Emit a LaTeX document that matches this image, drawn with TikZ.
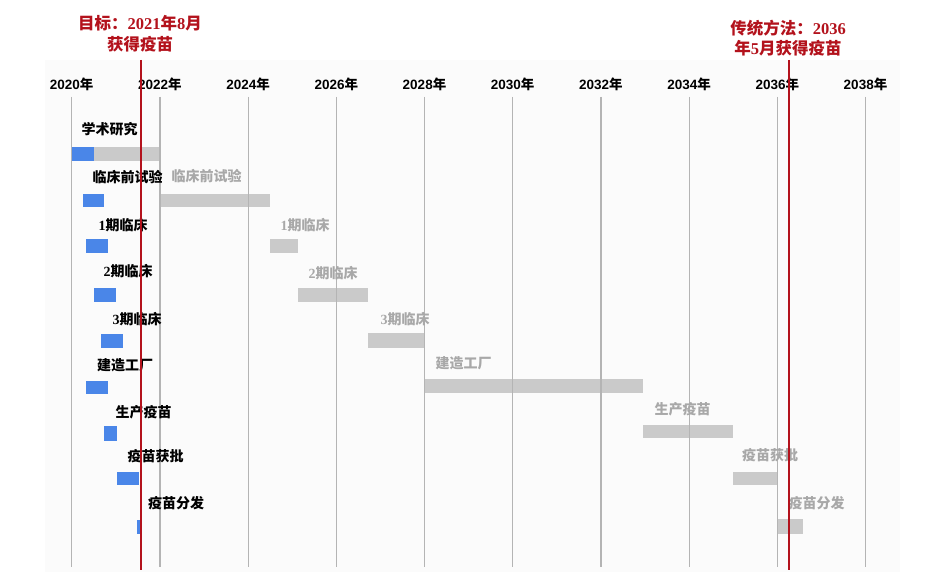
\documentclass[tikz,border=0pt]{standalone}
\usepackage{fontspec}
\setmainfont{Liberation Serif}
\newfontfamily\cjk{Noto Sans CJK SC}
\newfontfamily\axisf{Liberation Sans}
\definecolor{darkred}{HTML}{B3121C}
\definecolor{barblue}{HTML}{4A86E8}
\definecolor{bargray}{HTML}{CACACA}
\definecolor{txtgray}{HTML}{A8A8A8}
\definecolor{gridgray}{HTML}{B4B4B4}
\definecolor{panel}{HTML}{FBFBFB}
\tikzset{
  axislbl/.style={inner sep=0pt, font=\axisf\bfseries\fontsize{13.5}{15}\selectfont},
  rowlbl/.style={inner sep=0pt, text=black, font=\bfseries\fontsize{14}{16}\selectfont},
  graylbl/.style={inner sep=0pt, text=txtgray, font=\bfseries\fontsize{14}{16}\selectfont},
  redlbl/.style={inner sep=0pt, text=darkred, align=center, font=\bfseries\fontsize{16.5}{20.5}\selectfont},
  gridln/.style={draw=gridgray, line width=1.2pt},
  redln/.style={draw=darkred, line width=2.6pt},
  bluebar/.style={fill=barblue},
  graybar/.style={fill=bargray}
}
\begin{document}
\begin{tikzpicture}[x=1pt,y=-1pt]
\useasboundingbox (0,0) rectangle (927,577);
\fill[panel] (45,60) rectangle (900,572);

% bars
\fill[graybar] (94,147) rectangle (160,161);
\fill[graybar] (160,194) rectangle (270,207);
\fill[graybar] (270,239) rectangle (298,253);
\fill[graybar] (298,288) rectangle (368,302);
\fill[graybar] (368,333) rectangle (424,348);
\fill[graybar] (424,379) rectangle (643,393);
\fill[graybar] (643,425) rectangle (733,438);
\fill[graybar] (733,472) rectangle (778,485);
\fill[graybar] (778,519) rectangle (803,534);

\fill[bluebar] (72,147) rectangle (94,161);
\fill[bluebar] (83,194) rectangle (104,207);
\fill[bluebar] (86,239) rectangle (108,253);
\fill[bluebar] (94,288) rectangle (116,302);
\fill[bluebar] (101,334) rectangle (123,348);
\fill[bluebar] (86,381) rectangle (108,394);
\fill[bluebar] (104,426) rectangle (117,441);
\fill[bluebar] (117,472) rectangle (139,485);
\fill[bluebar] (137,520) rectangle (140,534);

% axis
\foreach \i in {0,...,9} {
  \pgfmathsetmacro\yr{int(2020+2*\i)}
  \node[axislbl] (yr\i) at ({71.7+88.2*\i},84) {\yr{\cjk 年}};
  \coordinate (gt\i) at ({71.7+88.2*\i},97);
  \coordinate (gb\i) at ({71.7+88.2*\i},567);
  \draw[gridln] (gt\i) -- (gb\i);
}

% row labels
\node[rowlbl] (l1) at (109.5,129) {\cjk 学术研究};
\node[rowlbl] (l2) at (127.5,177) {\cjk 临床前试验};
\node[rowlbl] (l3) at (123,225) {1{\cjk 期临床}};
\node[rowlbl] (l4) at (128,271) {2{\cjk 期临床}};
\node[rowlbl] (l5) at (137,319) {3{\cjk 期临床}};
\node[rowlbl] (l6) at (125,365) {\cjk 建造工厂};
\node[rowlbl] (l7) at (143.5,412) {\cjk 生产疫苗};
\node[rowlbl] (l8) at (155.5,456) {\cjk 疫苗获批};
\node[rowlbl] (l9) at (176,503) {\cjk 疫苗分发};

\node[graylbl] (g2) at (206.5,176) {\cjk 临床前试验};
\node[graylbl] (g3) at (305,225) {1{\cjk 期临床}};
\node[graylbl] (g4) at (333,273) {2{\cjk 期临床}};
\node[graylbl] (g5) at (405,319) {3{\cjk 期临床}};
\node[graylbl] (g6) at (463.5,363) {\cjk 建造工厂};
\node[graylbl] (g7) at (682.5,409) {\cjk 生产疫苗};
\node[graylbl] (g8) at (770,455) {\cjk 疫苗获批};
\node[graylbl] (g9) at (816.5,503) {\cjk 疫苗分发};

% red markers
\coordinate (rt1) at (141,60);
\coordinate (rb1) at (141,570);
\coordinate (rt2) at (789,60);
\coordinate (rb2) at (789,570);
\draw[redln] (rt1) -- (rb1);
\draw[redln] (rt2) -- (rb2);
\node[redlbl] (target) at (140,34) {{\cjk 目标：}2021{\cjk 年}8{\cjk 月}\\{\cjk 获得疫苗}};
\node[redlbl] (trad) at (788,38) {{\cjk 传统方法：}2036\\{\cjk 年}5{\cjk 月获得疫苗}};
\end{tikzpicture}
\end{document}
